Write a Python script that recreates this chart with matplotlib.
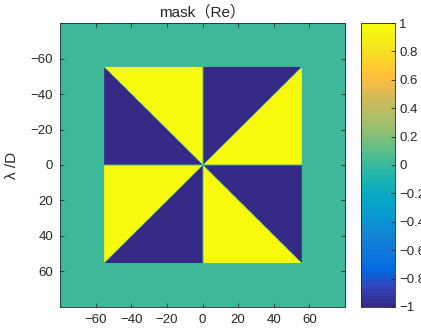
import numpy as np
import matplotlib
matplotlib.use('Agg')
import matplotlib.pyplot as plt
from matplotlib.colors import LinearSegmentedColormap
from matplotlib.ticker import FuncFormatter

plt.rcParams['font.family'] = ['Liberation Sans', 'Noto Sans CJK JP', 'DejaVu Sans']

# grid and mask geometry (lambda/D)
half_range = 80
step = 0.5
mask_half = 55
# value of each 45 degree sector, going round from +x (image y points down)
sector_values = [-1, 1, -1, 1, -1, 1, -1, 1]

xticks = [-60, -40, -20, 0, 20, 40, 60]
yticks = [-60, -40, -20, 0, 20, 40, 60]
cbar_ticks = [-1, -0.8, -0.6, -0.4, -0.2, 0, 0.2, 0.4, 0.6, 0.8, 1]

# parula anchors (every 4th entry of the 64 colour table)
parula_anchors = [
    (0.2081, 0.1663, 0.5292), (0.1959, 0.2645, 0.7279), (0.0060, 0.4086, 0.8828),
    (0.0629, 0.4737, 0.8554), (0.0793, 0.5200, 0.8312), (0.0343, 0.5966, 0.8199),
    (0.0228, 0.6535, 0.7768), (0.0843, 0.6928, 0.7062), (0.2178, 0.7250, 0.6193),
    (0.3953, 0.7459, 0.5244), (0.5709, 0.7485, 0.4494), (0.7184, 0.7411, 0.3905),
    (0.8507, 0.7299, 0.3360), (0.9938, 0.7455, 0.2403), (0.9789, 0.8271, 0.1633),
    (0.9598, 0.9218, 0.0948), (0.9763, 0.9831, 0.0538),
]
parula = LinearSegmentedColormap.from_list('parula', parula_anchors, N=64)

# build the mask
coords = np.arange(-half_range, half_range + step / 2, step)
X, Y = np.meshgrid(coords, coords)
theta = np.mod(np.arctan2(Y, X), 2 * np.pi)
sector = np.floor(theta / (np.pi / 4)).astype(int) % 8
mask = np.array(sector_values)[sector].astype(float)
edge = (X == 0) | (Y == 0) | (np.abs(X) == np.abs(Y))
mask[edge] = 0
mask[(np.abs(X) > mask_half) | (np.abs(Y) > mask_half)] = 0

fig = plt.figure(figsize=(4.21, 3.34), dpi=100)
ax = fig.add_axes([0.1425, 0.081, 0.677, 0.850])
im = ax.imshow(mask, cmap=parula, vmin=-1, vmax=1, origin='upper',
               extent=[coords[0] - step / 2, coords[-1] + step / 2,
                       coords[-1] + step / 2, coords[0] - step / 2],
               interpolation='antialiased', aspect='auto')
ax.set_xlim(-half_range, half_range)
ax.set_ylim(half_range, -half_range)
ax.set_xticks(xticks)
ax.set_yticks(yticks)
minus = FuncFormatter(lambda v, p: ('%g' % v).replace('-', '\u2212'))
ax.xaxis.set_major_formatter(minus)
ax.yaxis.set_major_formatter(minus)
ax.tick_params(direction='in', top=True, right=True, length=3, width=0.6,
               labelsize=9.5, colors='#262626', pad=5)
for s in ax.spines.values():
    s.set_color('#262626')
    s.set_linewidth(0.6)
ax.set_title('mask\uff08Re\uff09', fontsize=11, color='#262626', pad=5)
ax.set_ylabel('\u03bb /D', fontsize=11, color='#262626', labelpad=8)

cax = fig.add_axes([0.8575, 0.081, 0.081, 0.850])
cb = fig.colorbar(im, cax=cax, ticks=cbar_ticks)
cb.ax.yaxis.set_major_formatter(minus)
cb.ax.tick_params(direction='in', length=3, width=0.6, labelsize=9.5,
                  colors='#262626', pad=3)
cb.outline.set_edgecolor('#262626')
cb.outline.set_linewidth(0.6)

fig.savefig('out.png', dpi=100)
